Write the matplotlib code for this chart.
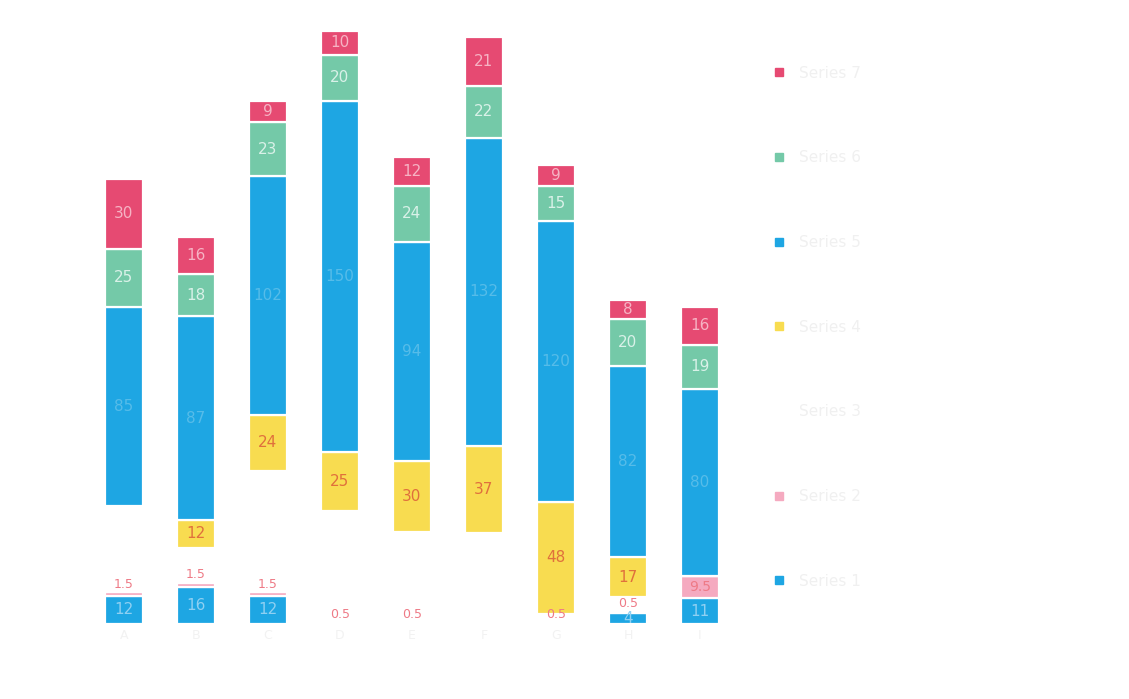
import matplotlib
matplotlib.use("Agg")
import matplotlib.pyplot as plt
from matplotlib.lines import Line2D
import numpy as np

# ---- data ----
categories = ["A", "B", "C", "D", "E", "F", "G", "H", "I"]
series_names = ["Series 1", "Series 2", "Series 3", "Series 4",
                "Series 5", "Series 6", "Series 7"]
s1 = [12, 16, 12, 0, 0, 0, 0, 4.5, 11]          # small blue (bottom)
s2 = [1.5, 1.5, 1.5, 0.5, 0.5, 0, 0.5, 0.5, 9.5]  # small pink
s3 = [37, 15, 52, 48, 39, 39, 3.8, 6.5, 0]     # blank (white) part
s4 = [0, 12, 24, 25, 30, 37, 48, 17, 0]        # yellow
s5 = [85, 87, 102, 150, 94, 132, 120, 82, 80]  # big blue
s6 = [25, 18, 23, 20, 24, 22, 15, 20, 19]      # green
s7 = [30, 16, 9, 10, 12, 21, 9, 8, 16]         # red

series = [s1, s2, s3, s4, s5, s6, s7]
colors = ["#1ea6e3", "#f5aac0", "#ffffff", "#f8dc50",
          "#1ea6e3", "#74c9a8", "#e64a72"]
label_colors = ["#8fd0f2", "#ee7a86", None, "#e0703c",
                "#56bce9", "#d9f1e8", "#f6b3c4"]

fig = plt.figure(figsize=(11.29, 6.99), dpi=100)
ax = fig.add_axes([70 / 1129, 75 / 699, 684 / 1129, 608 / 699])

x = np.arange(len(categories))
bottom = np.zeros(len(categories))
for i, (vals, col, lc) in enumerate(zip(series, colors, label_colors)):
    vals = np.array(vals, dtype=float)
    ax.bar(x, vals, width=0.52, bottom=bottom, color=col,
           edgecolor="white", linewidth=1.6)
    if lc is not None:
        for xi, b, v in zip(x, bottom, vals):
            if v <= 0:
                continue
            if i == 1:
                txt = f"{v:.1f}"
                if v < 3:
                    ax.text(xi, b + v + 0.8, txt, ha="center", va="bottom",
                            fontsize=9, color=lc)
                else:
                    ax.text(xi, b + v / 2, txt, ha="center", va="center",
                            fontsize=10, color=lc)
            else:
                ax.text(xi, b + v / 2, f"{v:.0f}", ha="center", va="center",
                        fontsize=11, color=lc)
    bottom += vals

ax.set_xlim(-0.75, 8.75)
ax.set_ylim(0, 260)
ax.set_xticks(x)
ax.set_xticklabels(categories, color="#f2f2f2", fontsize=9)
ax.tick_params(length=0)
ax.set_yticks([])
for sp in ax.spines.values():
    sp.set_visible(False)

# legend (top entry = top of stack)
leg_handles = []
for name, col in zip(series_names[::-1], colors[::-1]):
    leg_handles.append(Line2D([], [], linestyle="none", marker="s",
                              markersize=6, markerfacecolor=col,
                              markeredgecolor=col, label=name))
fig.legend(handles=leg_handles, loc="upper left",
           bbox_to_anchor=(758 / 1129, 1 - 52 / 699),
           frameon=False, fontsize=11, labelspacing=4.56,
           handlelength=1.0, handletextpad=0.8, labelcolor="#f0f0f0")

fig.savefig("out.png", dpi=100, facecolor="white")
